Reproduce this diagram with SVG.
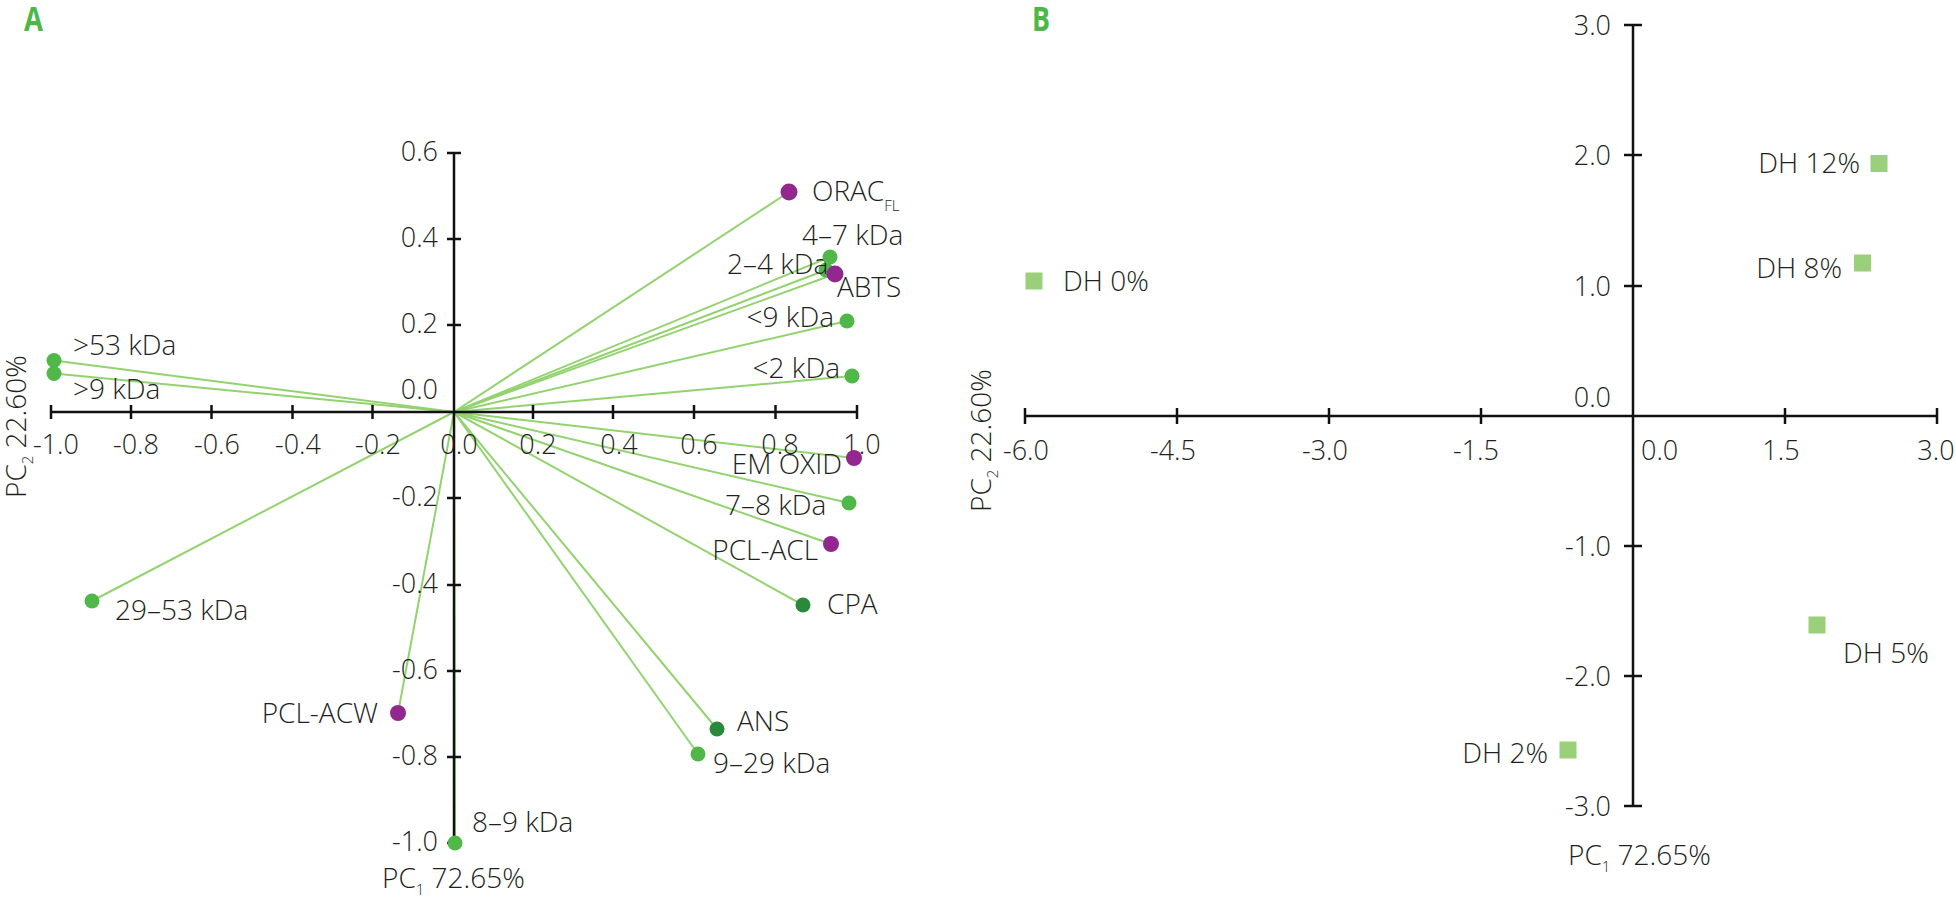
<svg xmlns="http://www.w3.org/2000/svg" width="1956" height="901" viewBox="0 0 1956 901">
<style>
text{font-family:"Open Sans","Noto Sans","Liberation Sans",sans-serif;font-weight:300;font-size:28px;fill:#231f20}
.tk{font-size:27px}
.sub{font-size:15px}
.pl{font-family:"Open Sans","Liberation Sans",sans-serif;font-weight:700;font-size:34px;fill:#4db848}
.ax{stroke:#111;stroke-width:2.5;fill:none}
.vec{stroke:#93d36f;stroke-width:2;fill:none}
.g{fill:#50b848}
.p{fill:#92278f}
.d{fill:#2a8a3c}
.sq{fill:#9bd07a}
</style>
<rect width="1956" height="901" fill="#fff"/>

<!-- Panel labels -->
<text class="pl" x="24" y="31" textLength="19" lengthAdjust="spacingAndGlyphs">A</text>
<text class="pl" x="1032" y="31" textLength="18" lengthAdjust="spacingAndGlyphs">B</text>

<!-- ===== Panel A vectors (connectors) ===== -->
<g id="connectors">
<path class="vec" d="M454 412L54 360.5"/>
<path class="vec" d="M454 412L54 373.5"/>
<path class="vec" d="M454 412L92 601"/>
<path class="vec" d="M454 412L398 713"/>
<path class="vec" d="M454 412L455 843"/>
<path class="vec" d="M454 412L698 754"/>
<path class="vec" d="M454 412L717 729"/>
<path class="vec" d="M454 412L803 605"/>
<path class="vec" d="M454 412L831 544"/>
<path class="vec" d="M454 412L849 503"/>
<path class="vec" d="M454 412L854 458"/>
<path class="vec" d="M454 412L852 376"/>
<path class="vec" d="M454 412L847 321"/>
<path class="vec" d="M454 412L835 274"/>
<path class="vec" d="M454 412L826 270"/>
<path class="vec" d="M454 412L830 257"/>
<path class="vec" d="M454 412L789 192"/>
</g>

<!-- ===== Panel A axes ===== -->
<g id="axesA">
<path class="ax" d="M51 412H857 M454 153V843"/>
<path class="ax" d="M51 405v14 M131 405v14 M211.5 405v14 M292.5 405v14 M372.5 405v14 M533 405v14 M613 405v14 M694 405v14 M775.5 405v14 M857 405v14"/>
<path class="ax" d="M447 153h14 M447 239h14 M447 325h14 M447 498h14 M447 585h14 M447 671h14 M447 757h14 M447 843h14"/>
<g text-anchor="middle">
<text class="tk" x="56" y="454">-1.0</text>
<text class="tk" x="136" y="454">-0.8</text>
<text class="tk" x="217" y="454">-0.6</text>
<text class="tk" x="298" y="454">-0.4</text>
<text class="tk" x="378" y="454">-0.2</text>
<text class="tk" x="459" y="454">0.0</text>
<text class="tk" x="538" y="454">0.2</text>
<text class="tk" x="619" y="454">0.4</text>
<text class="tk" x="699" y="454">0.6</text>
<text class="tk" x="780" y="454">0.8</text>
<text class="tk" x="862" y="454">1.0</text>
</g>
<g text-anchor="end">
<text class="tk" x="438" y="161">0.6</text>
<text class="tk" x="438" y="247">0.4</text>
<text class="tk" x="438" y="333">0.2</text>
<text class="tk" x="438" y="399">0.0</text>
<text class="tk" x="438" y="506">-0.2</text>
<text class="tk" x="438" y="593">-0.4</text>
<text class="tk" x="438" y="679">-0.6</text>
<text class="tk" x="438" y="765">-0.8</text>
<text class="tk" x="438" y="851">-1.0</text>
</g>
<text x="382" y="888">PC<tspan class="sub" dy="7">1</tspan><tspan dy="-7"> 72.65%</tspan></text>
<text transform="translate(26,498) rotate(-90)">PC<tspan class="sub" dy="7">2</tspan><tspan dy="-7"> 22.60%</tspan></text>
</g>

<!-- ===== Panel A nodes ===== -->
<g id="n-gt53"><circle class="g" cx="54" cy="360.5" r="7.5"/><text x="73" y="355">&gt;53 kDa</text></g>
<g id="n-gt9"><circle class="g" cx="54" cy="373.5" r="7.5"/><text x="73" y="399">&gt;9 kDa</text></g>
<g id="n-29-53"><circle class="g" cx="92" cy="601" r="7.5"/><text x="115" y="620">29–53 kDa</text></g>
<g id="n-pclacw"><circle class="p" cx="398" cy="713" r="8"/><text x="378" y="723" text-anchor="end">PCL-ACW</text></g>
<g id="n-8-9"><circle class="g" cx="455" cy="843" r="7.5"/><text x="472" y="832">8–9 kDa</text></g>
<g id="n-9-29"><circle class="g" cx="698" cy="754" r="7.5"/><text x="713" y="773">9–29 kDa</text></g>
<g id="n-ans"><circle class="d" cx="717" cy="729" r="7.5"/><text x="737" y="731">ANS</text></g>
<g id="n-cpa"><circle class="d" cx="803" cy="605" r="7.5"/><text x="827" y="614">CPA</text></g>
<g id="n-pclacl"><circle class="p" cx="831" cy="544" r="8"/><text x="818" y="560" text-anchor="end">PCL-ACL</text></g>
<g id="n-7-8"><circle class="g" cx="849" cy="503" r="7.5"/><text x="725" y="515">7–8 kDa</text></g>
<g id="n-emoxid"><circle class="p" cx="854" cy="458" r="8"/><text x="842" y="474" text-anchor="end">EM OXID</text></g>
<g id="n-lt2"><circle class="g" cx="852" cy="376" r="7.5"/><text x="840" y="378" text-anchor="end">&lt;2 kDa</text></g>
<g id="n-lt9"><circle class="g" cx="847" cy="321" r="7.5"/><text x="834" y="327" text-anchor="end">&lt;9 kDa</text></g>
<g id="n-2-4"><circle class="g" cx="826" cy="270" r="7.5"/><text x="727" y="274">2–4 kDa</text></g>
<g id="n-abts"><circle class="p" cx="835" cy="274" r="8.5"/><text x="837" y="297">ABTS</text></g>
<g id="n-4-7"><circle class="g" cx="830" cy="257" r="7.5"/><text x="802" y="245">4–7 kDa</text></g>
<g id="n-orac"><circle class="p" cx="789" cy="192" r="8.5"/><text x="812" y="201">ORAC<tspan class="sub" dy="10">FL</tspan></text></g>

<!-- ===== Panel B axes ===== -->
<g id="axesB">
<path class="ax" d="M1025 416H1937 M1633 25V806"/>
<path class="ax" d="M1025 408v16 M1177 408v16 M1329 408v16 M1481 408v16 M1785 408v16 M1937 408v16"/>
<path class="ax" d="M1624 25h18 M1624 155h18 M1624 286h18 M1624 546h18 M1624 676h18 M1624 806h18"/>
<g text-anchor="middle">
<text class="tk" x="1026" y="460">-6.0</text>
<text class="tk" x="1173" y="460">-4.5</text>
<text class="tk" x="1325" y="460">-3.0</text>
<text class="tk" x="1476" y="460">-1.5</text>
<text class="tk" x="1781" y="460">1.5</text>
<text class="tk" x="1936" y="460">3.0</text>
</g>
<text class="tk" x="1641" y="460">0.0</text>
<g text-anchor="end">
<text class="tk" x="1611" y="35">3.0</text>
<text class="tk" x="1611" y="165">2.0</text>
<text class="tk" x="1611" y="296">1.0</text>
<text class="tk" x="1611" y="407">0.0</text>
<text class="tk" x="1611" y="556">-1.0</text>
<text class="tk" x="1611" y="686">-2.0</text>
<text class="tk" x="1611" y="816">-3.0</text>
</g>
<text x="1568" y="865">PC<tspan class="sub" dy="7">1</tspan><tspan dy="-7"> 72.65%</tspan></text>
<text transform="translate(991,512) rotate(-90)">PC<tspan class="sub" dy="7">2</tspan><tspan dy="-7"> 22.60%</tspan></text>
</g>

<!-- ===== Panel B nodes ===== -->
<g id="dh0"><rect class="sq" x="1025.5" y="272.5" width="17" height="17"/><text x="1063" y="291">DH 0%</text></g>
<g id="dh2"><rect class="sq" x="1559.5" y="741.5" width="17" height="17"/><text x="1548" y="763" text-anchor="end">DH 2%</text></g>
<g id="dh5"><rect class="sq" x="1808.5" y="616.5" width="17" height="17"/><text x="1843" y="663">DH 5%</text></g>
<g id="dh8"><rect class="sq" x="1854" y="254.5" width="17" height="17"/><text x="1842" y="278" text-anchor="end">DH 8%</text></g>
<g id="dh12"><rect class="sq" x="1870.5" y="155" width="17" height="17"/><text x="1860" y="173" text-anchor="end">DH 12%</text></g>
</svg>
